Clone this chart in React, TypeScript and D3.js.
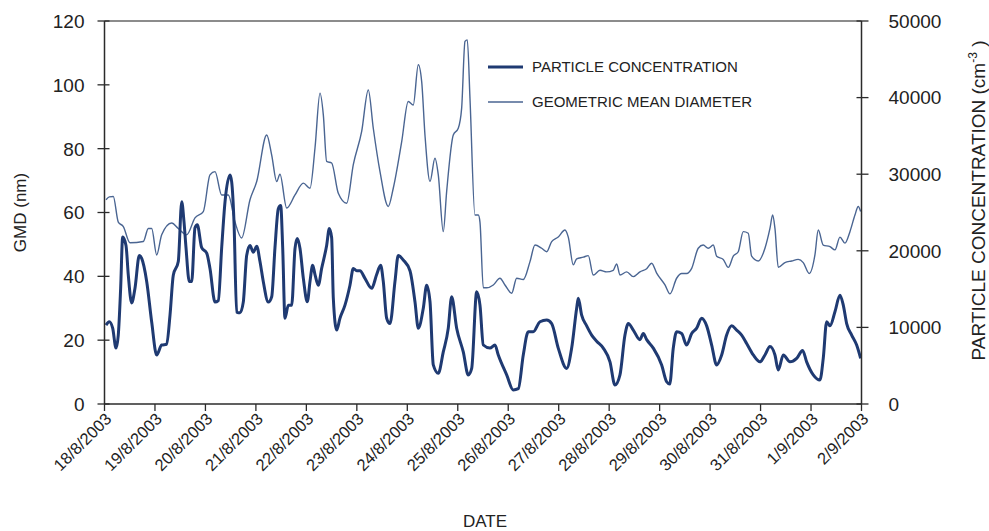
import React from "react";
import * as d3 from "d3";

// days since 18/8/2003 00:00, GMD (nm)
const gmdSeries: [number, number][] = [
  [0.03, 64], [0.095, 64.9], [0.174, 65], [0.273, 57], [0.373, 55.6], [0.505, 50.5], [0.769, 50.9],
  [0.868, 55], [0.935, 55], [1.034, 46.7], [1.133, 53], [1.331, 56.7], [1.462, 55], [1.629, 53],
  [1.793, 58.3], [1.958, 60.3], [2.09, 71.8], [2.19, 72.8], [2.322, 65.5], [2.453, 65.5], [2.586, 57],
  [2.718, 52], [2.883, 64], [3.016, 69.7], [3.214, 84.3], [3.313, 78], [3.412, 69.7], [3.477, 72],
  [3.61, 61.4], [3.775, 65.5], [3.94, 69.2], [4.072, 67.6], [4.171, 80.2], [4.27, 97.4], [4.336, 90.6],
  [4.402, 76], [4.501, 75.5], [4.633, 66], [4.799, 62.9], [4.93, 75], [5.096, 85.4], [5.227, 98.4],
  [5.326, 86.4], [5.459, 72.8], [5.623, 61.9], [5.722, 67.6], [5.889, 82.2], [6.019, 94.8], [6.118, 93.7],
  [6.218, 106.3], [6.285, 101], [6.35, 84.3], [6.45, 69.7], [6.548, 77], [6.614, 71.8], [6.713, 54],
  [6.78, 66.6], [6.911, 84.3], [7.01, 86.4], [7.077, 92.7], [7.143, 113.6], [7.189, 114.1], [7.242, 95.8],
  [7.341, 59.2], [7.407, 59.2], [7.44, 57], [7.506, 36.4], [7.573, 36.4], [7.704, 37.3], [7.836, 39.4],
  [7.935, 37.3], [8.068, 34.7], [8.167, 39.4], [8.298, 39], [8.431, 44.6], [8.53, 49.8], [8.662, 48.8],
  [8.762, 47.7], [8.861, 50.9], [8.991, 52.3], [9.124, 54.5], [9.19, 52.3], [9.289, 43.6], [9.356, 45.5],
  [9.487, 46], [9.586, 46.5], [9.685, 40.4], [9.818, 41.9], [9.95, 41.4], [10.081, 41.9], [10.149, 43.9],
  [10.214, 40.4], [10.347, 41.4], [10.478, 39.9], [10.61, 41.4], [10.743, 42.4], [10.842, 44.1],
  [10.941, 41], [11.106, 37.3], [11.205, 34.5], [11.337, 39.4], [11.436, 40.9], [11.535, 40.9],
  [11.635, 42.5], [11.765, 48.8], [11.864, 49.8], [11.964, 48.8], [12.063, 49.8], [12.13, 46.3],
  [12.261, 45.3], [12.36, 42.8], [12.459, 46.3], [12.558, 47.7], [12.657, 54], [12.756, 53.5],
  [12.823, 46.3], [12.954, 44.8], [13.087, 48.8], [13.186, 55], [13.24, 59.2], [13.285, 55],
  [13.351, 42.8], [13.483, 44.3], [13.616, 44.8], [13.746, 45.3], [13.846, 44.3], [13.965, 40.9],
  [14.078, 46.8], [14.143, 54.5], [14.242, 49.8], [14.375, 49.3], [14.474, 48.3], [14.573, 52.3],
  [14.672, 50.4], [14.771, 54], [14.87, 59.2], [14.936, 61.9], [14.983, 60.3],
];

// days since 18/8/2003 00:00, particle concentration (cm-3)
const concSeries: [number, number][] = [
  [0.03, 10300], [0.095, 10740], [0.162, 9900], [0.228, 7300], [0.273, 9000], [0.32, 15100], [0.36, 21800],
  [0.426, 20700], [0.472, 16800], [0.538, 13200], [0.604, 15100], [0.69, 19400], [0.737, 19000],
  [0.836, 16000], [0.935, 10700], [1.034, 6400], [1.133, 7700], [1.232, 7800], [1.298, 11600],
  [1.363, 16800], [1.462, 18600], [1.53, 26400], [1.575, 23800], [1.615, 20400], [1.68, 16000],
  [1.728, 16000], [1.793, 23000], [1.839, 23400], [1.926, 20400], [2.025, 19700], [2.09, 17700],
  [2.19, 13300], [2.255, 13500], [2.322, 20400], [2.388, 26400], [2.487, 29900], [2.52, 29000],
  [2.566, 23800], [2.619, 12000], [2.685, 11900], [2.75, 13300], [2.817, 19400], [2.883, 20700],
  [2.948, 19800], [3.016, 20600], [3.081, 18600], [3.146, 16000], [3.246, 13300], [3.313, 14000],
  [3.378, 20400], [3.444, 25500], [3.491, 25900], [3.531, 20400], [3.576, 11200], [3.642, 12900],
  [3.709, 12900], [3.775, 20300], [3.82, 21600], [3.874, 20300], [3.94, 16400], [4.019, 13350],
  [4.072, 16000], [4.125, 18100], [4.171, 16900], [4.236, 15500], [4.303, 17700], [4.402, 20700],
  [4.455, 22900], [4.501, 21700], [4.534, 13800], [4.6, 9650], [4.666, 11200], [4.765, 12900],
  [4.864, 15500], [4.93, 17700], [4.997, 17400], [5.062, 17400], [5.161, 16400], [5.294, 15100],
  [5.393, 16900], [5.472, 18100], [5.524, 16000], [5.591, 11200], [5.657, 10500], [5.756, 16000],
  [5.821, 19400], [5.92, 18800], [6.053, 17400], [6.152, 13350], [6.218, 9900], [6.317, 12500],
  [6.384, 15500], [6.45, 13350], [6.515, 5100], [6.614, 4000], [6.713, 6800], [6.812, 9900],
  [6.879, 14000], [6.978, 9900], [7.109, 6800], [7.208, 3800], [7.276, 4650], [7.375, 14650],
  [7.44, 12900], [7.506, 7700], [7.638, 7300], [7.737, 7700], [7.803, 6400], [7.969, 3800],
  [8.1, 1830], [8.2, 2000], [8.298, 6400], [8.397, 9430], [8.496, 9430], [8.629, 10740],
  [8.762, 10960], [8.861, 10500], [8.991, 7300], [9.158, 4650], [9.257, 7300], [9.356, 12500],
  [9.388, 13800], [9.455, 11600], [9.554, 10200], [9.653, 9000], [9.752, 8200], [9.883, 7300],
  [10.016, 5500], [10.115, 2480], [10.214, 3800], [10.313, 9000], [10.379, 10500], [10.478, 9650],
  [10.61, 8400], [10.676, 9200], [10.743, 8400], [10.874, 7300], [11.04, 5100], [11.139, 2900],
  [11.2, 2600], [11.27, 7270], [11.337, 9430], [11.436, 9200], [11.535, 7700], [11.635, 9200],
  [11.734, 9900], [11.833, 11200], [11.932, 10200], [12.031, 7700], [12.13, 5100], [12.229, 6400],
  [12.328, 9000], [12.427, 10200], [12.526, 9650], [12.625, 9000], [12.724, 7900], [12.855, 6400],
  [12.988, 5500], [13.087, 6400], [13.186, 7500], [13.285, 6400], [13.351, 4440], [13.45, 6400],
  [13.583, 5500], [13.715, 5950], [13.834, 7000], [13.913, 5500], [14.044, 3800], [14.176, 3130],
  [14.242, 5950], [14.31, 10740], [14.375, 10200], [14.474, 12040], [14.573, 14200], [14.639, 12900],
  [14.706, 10500], [14.805, 9000], [14.904, 7700], [14.983, 5960],
];

const leftTicks = [0, 20, 40, 60, 80, 100, 120];
const rightTicks = [0, 10000, 20000, 30000, 40000, 50000];
const legendLabels = ["PARTICLE CONCENTRATION", "GEOMETRIC MEAN DIAMETER"];

const START = new Date(2003, 7, 18);
const END = new Date(2003, 8, 2);
const DAY = 864e5;
const FONT = "'Liberation Sans', Arial, Helvetica, sans-serif";
const CONC_COLOR = "#1f3a72";
const GMD_COLOR = "#4a6592";

export default function App() {
  const W = 989, H = 531;
  const x = d3.scaleTime().domain([START, END]).range([104.5, 861.5]);
  const yL = d3.scaleLinear().domain([0, 120]).range([404, 21]);
  const yR = d3.scaleLinear().domain([0, 50000]).range([404, 21]);
  const toDate = (d: number) => new Date(START.getTime() + d * DAY);
  const dayTicks = d3.timeDay.range(START, d3.timeDay.offset(END, 1));
  const fmt = d3.timeFormat("%-d/%-m/%Y");

  const gmdLine = d3.line<[number, number]>().curve(d3.curveMonotoneX).x((d) => x(toDate(d[0]))).y((d) => yL(d[1]));
  const concLine = d3.line<[number, number]>().curve(d3.curveMonotoneX).x((d) => x(toDate(d[0]))).y((d) => yR(d[1]));

  const [x0, x1] = x.range();
  const axisColor = "#2b2b2b";

  return (
    <div style={{ position: "absolute", left: 0, top: 0, width: W, height: H, background: "#fff" }}>
      <svg width={W} height={H} style={{ display: "block" }} fontFamily={FONT}>
        <rect width={W} height={H} fill="#fff" />
        {/* top frame */}
        <line x1={x0} x2={x1} y1={yL(120)} y2={yL(120)} stroke="#666" strokeWidth={1.5} />
        {/* series */}
        <path d={gmdLine(gmdSeries) || ""} fill="none" stroke={GMD_COLOR} strokeWidth={1.4} strokeLinejoin="round" />
        <path d={concLine(concSeries) || ""} fill="none" stroke={CONC_COLOR} strokeWidth={3} strokeLinejoin="round" />
        {/* axes */}
        <line x1={x0} x2={x0} y1={yL(120)} y2={yL(0)} stroke={axisColor} strokeWidth={1.5} />
        <line x1={x1} x2={x1} y1={yR(50000)} y2={yR(0)} stroke={axisColor} strokeWidth={1.5} />
        <line x1={x0} x2={x1} y1={yL(0)} y2={yL(0)} stroke={axisColor} strokeWidth={1.5} />
        {leftTicks.map((t) => (
          <g key={"l" + t}>
            <line x1={x0 - 7} x2={x0 + 5} y1={yL(t)} y2={yL(t)} stroke={axisColor} strokeWidth={1.3} />
            <text x={x0 - 20} y={yL(t)} dy="0.36em" textAnchor="end" fontSize={19} fill="#222">{t}</text>
          </g>
        ))}
        {rightTicks.map((t) => (
          <g key={"r" + t}>
            <line x1={x1 - 5} x2={x1 + 7} y1={yR(t)} y2={yR(t)} stroke={axisColor} strokeWidth={1.3} />
            <text x={x1 + 27} y={yR(t)} dy="0.36em" textAnchor="start" fontSize={19} fill="#222">{t}</text>
          </g>
        ))}
        {dayTicks.map((d, i) => {
          const tx = x(d);
          return (
            <g key={"x" + i}>
              <line x1={tx} x2={tx} y1={yL(0)} y2={yL(0) + 7} stroke={axisColor} strokeWidth={1.3} />
              <text transform={`translate(${tx + 8},${yL(0) + 16}) rotate(-45)`} textAnchor="end" fontSize={16.5} fill="#222">
                {fmt(d)}
              </text>
            </g>
          );
        })}
        {/* axis titles */}
        <text transform={`translate(26,${(yL(0) + yL(120)) / 2}) rotate(-90)`} textAnchor="middle" fontSize={17} fill="#222">GMD (nm)</text>
        <text transform={`translate(985,${(yR(0) + yR(50000)) / 2 - 12}) rotate(-90)`} textAnchor="middle" fontSize={19} fill="#222">
          PARTICLE CONCENTRATION (cm<tspan fontSize={12} dy={-8}>-3</tspan><tspan dy={8}> )</tspan>
        </text>
        <text x={485} y={527} textAnchor="middle" fontSize={17} fill="#222">DATE</text>
        {/* legend */}
        {legendLabels.map((lab, i) => {
          const ly = 67 + i * 35;
          return (
            <g key={lab}>
              <line x1={488} x2={523} y1={ly} y2={ly} stroke={i === 0 ? CONC_COLOR : GMD_COLOR} strokeWidth={i === 0 ? 3 : 1.5} />
              <text x={532} y={ly} dy="0.36em" fontSize={15} fill="#222">{lab}</text>
            </g>
          );
        })}
      </svg>
    </div>
  );
}
